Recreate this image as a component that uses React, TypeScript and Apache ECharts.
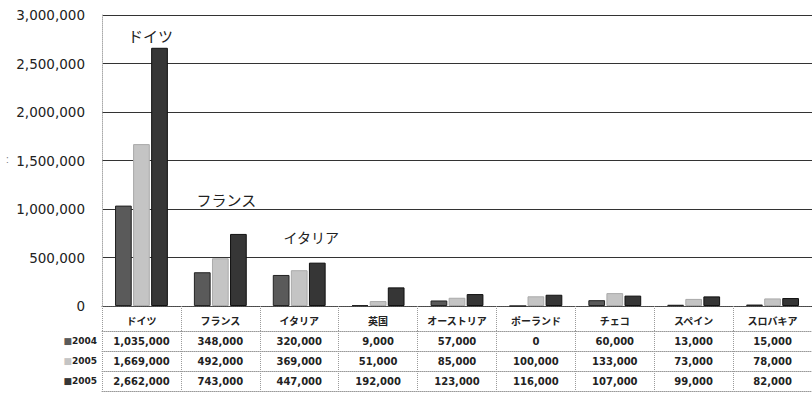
import React, { useEffect, useRef } from "react";
import * as echarts from "echarts";

const categories = ["ドイツ", "フランス", "イタリア", "英国", "オーストリア", "ポーランド", "チェコ", "スペイン", "スロバキア"];
const seriesNames = ["2004", "2005", "2005"];
const values2004 = [1035000, 348000, 320000, 9000, 57000, 0, 60000, 13000, 15000];
const values2005 = [1669000, 492000, 369000, 51000, 85000, 100000, 133000, 73000, 78000];
const values2006 = [2662000, 743000, 447000, 192000, 123000, 116000, 107000, 99000, 82000];
const yTicks = [0, 500000, 1000000, 1500000, 2000000, 2500000, 3000000];
const annotations = [
  { name: "ドイツ", category: "ドイツ", value: 2784000, dx: 9 },
  { name: "フランス", category: "フランス", value: 1093000, dx: 6 },
  { name: "イタリア", category: "イタリア", value: 711000, dx: 12 },
];

const barColors = ["#5a5a5a", "#c4c4c4", "#363636"];
const fmt = (v: number) => v.toLocaleString("en-US");

export default function App() {
  const ref = useRef<HTMLDivElement>(null);
  useEffect(() => {
    const chart = echarts.init(ref.current!, undefined, { renderer: "svg" });
    const rows = [values2004, values2005, values2006];
    const tableLine = { show: true, lineStyle: { color: "#9a9a9a", type: "dotted" as const, width: 1 } };
    const rowAxes = rows.map((vals, i) => ({
      type: "category" as const,
      data: categories,
      position: "bottom" as const,
      offset: 25 + i * 20,
      axisLine: tableLine,
      axisTick: { show: true, interval: 0, length: 20, lineStyle: { color: "#9a9a9a", type: "dotted" as const } },
      axisLabel: {
        interval: 0,
        margin: 5,
        fontSize: 10,
        fontWeight: "bold" as const,
        color: "#222",
        fontFamily: "DejaVu Sans",
        formatter: (_v: string, idx: number) => fmt(vals[idx]),
      },
      name: `{m${i}|■}` + seriesNames[i],
      nameLocation: "start" as const,
      nameGap: 5,
      nameTextStyle: {
        fontSize: 9,
        fontWeight: "bold" as const,
        color: "#222",
        fontFamily: "DejaVu Sans",
        verticalAlign: "top" as const,
        padding: [5, 0, 0, 0],
        rich: {
          [`m${i}`]: { color: barColors[i], fontSize: 9 },
        },
      },
    }));
    const option: echarts.EChartsOption = {
      animation: false,
      backgroundColor: "#ffffff",
      grid: { left: 102, right: 0, top: 15, bottom: 87, containLabel: false },
      xAxis: [
        {
          type: "category",
          data: categories,
          position: "bottom",
          axisLine: { show: true, lineStyle: { color: "#555", type: "dotted" } },
          axisTick: { show: true, interval: 0, length: 25, lineStyle: { color: "#9a9a9a", type: "dotted" } },
          axisLabel: {
            interval: 0,
            margin: 9,
            fontSize: 10,
            fontWeight: "bold",
            color: "#222",
            fontFamily: "Noto Sans CJK JP",
          },
        },
        ...rowAxes,
        {
          type: "category",
          data: categories,
          position: "bottom",
          offset: 85,
          axisLine: tableLine,
          axisTick: { show: false },
          axisLabel: { show: false },
        },
      ],
      yAxis: {
        type: "value",
        min: 0,
        max: 3000000,
        interval: 500000,
        axisLine: { show: true, lineStyle: { color: "#aaa", type: "dotted" } },
        axisTick: { show: false },
        splitLine: { show: true, lineStyle: { color: "#333", width: 1, type: "solid" } },
        axisLabel: {
          margin: 17,
          fontSize: 13.5,
          color: "#222",
          fontFamily: "DejaVu Sans",
          formatter: (v: number) => (yTicks.includes(v) ? fmt(v) : ""),
        },
      },
      series: [
        {
          name: seriesNames[0],
          type: "bar",
          data: values2004,
          barGap: "8%",
          barCategoryGap: "33%",
          itemStyle: { color: barColors[0], borderColor: "#222", borderWidth: 1 },
        },
        {
          name: seriesNames[1],
          type: "bar",
          data: values2005,
          itemStyle: { color: barColors[1], borderColor: "#aaa", borderWidth: 1 },
          markPoint: {
            symbol: "circle",
            symbolSize: 1,
            itemStyle: { color: "rgba(0,0,0,0)" },
            label: {
              show: true,
              position: "inside",
              fontSize: 15,
              color: "#222",
              fontFamily: "Noto Sans CJK JP",
              formatter: (p: any) => p.name,
            },
            data: annotations.map((a) => ({
              name: a.name,
              coord: [a.category, a.value],
              label: { offset: [a.dx, 0], fontSize: a.name === "イタリア" ? 14 : 15 },
            })),
          },
        },
        {
          name: seriesNames[2],
          type: "bar",
          data: values2006,
          itemStyle: { color: barColors[2], borderColor: "#111", borderWidth: 1 },
        },
      ],
      graphic: [
        { type: "text", left: 6, top: 154, style: { text: ":", fontSize: 10, fill: "#777" } },
      ],
    };
    chart.setOption(option);
    return () => chart.dispose();
  }, []);
  return <div ref={ref} style={{ width: 812, height: 393, position: "absolute", left: 0, top: 0 }} />;
}
